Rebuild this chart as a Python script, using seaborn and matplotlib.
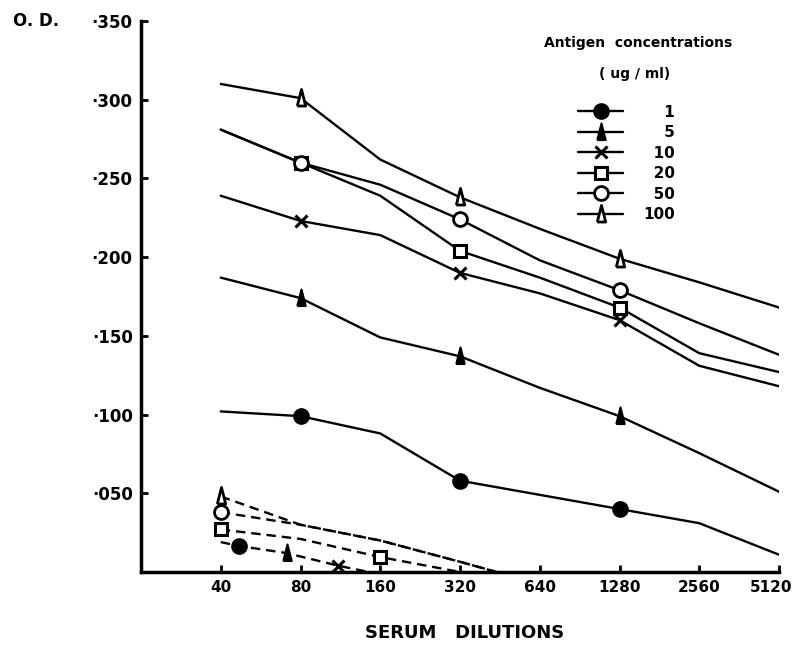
import numpy as np
import pandas as pd
import matplotlib
matplotlib.use("Agg")
import matplotlib.pyplot as plt
from matplotlib.lines import Line2D
from matplotlib.ticker import FixedLocator, FixedFormatter, NullLocator
from matplotlib.transforms import ScaledTranslation
import seaborn as sns

# serum dilutions (x) and O.D. readings
dilutions = [40, 80, 160, 320, 640, 1280, 2560, 5120]
dilution_labels = ["40", "80", "160", "320", "640", "1280", "2560", "5120"]
concentrations = ["1", "5", "10", "20", "50", "100"]

od_1 = [0.102, 0.099, 0.088, 0.058, 0.049, 0.040, 0.031, 0.011]
od_5 = [0.187, 0.174, 0.149, 0.137, 0.117, 0.099, 0.0755, 0.051]
od_10 = [0.239, 0.223, 0.214, 0.190, 0.177, 0.160, 0.131, 0.118]
od_20 = [0.281, 0.260, 0.239, 0.204, 0.187, 0.168, 0.139, 0.127]
od_50 = [0.281, 0.260, 0.246, 0.224, 0.198, 0.179, 0.158, 0.138]
od_100 = [0.310, 0.301, 0.262, 0.238, 0.218, 0.199, 0.184, 0.168]

# control (dashed) curves
ctrl_top_dil = [40, 80, 160, 320, 440]
ctrl_100 = [0.048, 0.030, 0.020, 0.0065, 0.0]
ctrl_50 = [0.038, 0.030, 0.020, 0.0065, 0.0]
ctrl_20_dil = [40, 80, 160, 320]
ctrl_20 = [0.027, 0.021, 0.0095, 0.0]
ctrl_low_dil = [40, 47, 71, 111, 145]
ctrl_low = [0.019, 0.0165, 0.012, 0.004, 0.0]

yticks = [0.05, 0.10, 0.15, 0.20, 0.25, 0.30, 0.35]
ytick_labels = ["·050", "·100", "·150", "·200", "·250", "·300", "·350"]

sns.set_style("white")
plt.rcParams["font.family"] = ["DejaVu Sans"]
plt.rcParams["font.weight"] = "bold"
for key in ["text.color", "axes.labelcolor", "xtick.color", "ytick.color"]:
    plt.rcParams[key] = "black"

fig = plt.figure(figsize=(7.96, 6.5), dpi=100)
ax = fig.add_axes([141 / 796, 78 / 650, 638 / 796, 551 / 650])

# tall narrow triangle like the hand-drawn one
tri = [(-0.28, -0.5), (0, 0.6), (0.28, -0.5), (-0.28, -0.5)]
styles = {
    "1": dict(marker="o", ms=10.5, mfc="black", mew=1.5),
    "5": dict(marker=tri, ms=13, mfc="black", mew=1.5),
    "10": dict(marker="x", ms=8, mfc="black", mew=2.2),
    "20": dict(marker="s", ms=9, mfc="white", mew=2.2),
    "50": dict(marker="o", ms=10, mfc="white", mew=2),
    "100": dict(marker=tri, ms=13, mfc="white", mew=2),
}
series = {"1": od_1, "5": od_5, "10": od_10, "20": od_20, "50": od_50, "100": od_100}

lw = 1.7
for conc in concentrations:
    df = pd.DataFrame({"dilution": dilutions, "od": series[conc]})
    sns.lineplot(data=df, x="dilution", y="od", ax=ax, color="black", lw=lw,
                 estimator=None, sort=False, markevery=[1, 3, 5],
                 mec="black", zorder=3, **styles[conc])

dash = (0, (4, 2.5))
for xs, ys, conc in [(ctrl_top_dil, ctrl_100, "100"), (ctrl_top_dil, ctrl_50, "50"),
                     (ctrl_20_dil, ctrl_20, "20")]:
    df = pd.DataFrame({"dilution": xs, "od": ys})
    sns.lineplot(data=df, x="dilution", y="od", ax=ax, color="black", lw=lw,
                 ls=dash, estimator=None, sort=False, zorder=2)
    mk = [0, 2] if conc == "20" else [0]
    ax.plot([xs[i] for i in mk], [ys[i] for i in mk], ls="none", mec="black",
            zorder=4, clip_on=False, **styles[conc])

df = pd.DataFrame({"dilution": ctrl_low_dil, "od": ctrl_low})
sns.lineplot(data=df, x="dilution", y="od", ax=ax, color="black", lw=lw,
             ls=dash, estimator=None, sort=False, zorder=2)
for i, conc in zip([1, 2, 3], ["1", "5", "10"]):
    ax.plot([ctrl_low_dil[i]], [ctrl_low[i]], ls="none", mec="black",
            zorder=4, clip_on=False, **styles[conc])

ax.set_xscale("log", base=2)
ax.set_xlim(20, 5120)
ax.set_ylim(0, 0.35)
ax.xaxis.set_major_locator(FixedLocator(dilutions))
ax.xaxis.set_major_formatter(FixedFormatter(dilution_labels))
ax.xaxis.set_minor_locator(NullLocator())
ax.yaxis.set_major_locator(FixedLocator(yticks))
ax.yaxis.set_major_formatter(FixedFormatter(ytick_labels))
ax.tick_params(axis="both", direction="in", length=5, width=2,
               bottom=True, left=True, pad=6)
ax.tick_params(axis="y", labelsize=12)
ax.tick_params(axis="x", labelsize=11)
for lab in ax.get_xticklabels() + ax.get_yticklabels():
    lab.set_fontweight("bold")
# nudge the last x label so it stays inside the picture
last = ax.get_xticklabels()[-1]
last.set_transform(last.get_transform() + ScaledTranslation(-6 / 72, 0, fig.dpi_scale_trans))
for side in ["top", "right"]:
    ax.spines[side].set_visible(False)
for side in ["left", "bottom"]:
    ax.spines[side].set_linewidth(2.5)
    ax.spines[side].set_color("black")
ax.set_xlabel("")
ax.set_ylabel("")

fig.text(36 / 796, 1 - 21 / 650, "O. D.", ha="center", va="center",
         fontsize=12, fontweight="bold")
fig.text(465 / 796, 1 - 633 / 650, "SERUM   DILUTIONS", ha="center",
         va="center", fontsize=13, fontweight="bold")

# legend
fig.text(638 / 796, 1 - 43 / 650, "Antigen  concentrations", ha="center",
         va="center", fontsize=10, fontweight="bold")
fig.text(635 / 796, 1 - 74 / 650, "( ug / ml)", ha="center", va="center",
         fontsize=10, fontweight="bold")
handles = [Line2D([], [], color="black", lw=lw, mec="black", **styles[c])
           for c in concentrations]
labels = ["\u2007\u2007" + c if len(c) == 1 else ("\u2007" + c if len(c) == 2 else c)
          for c in concentrations]
leg = fig.legend(handles, labels, loc="upper left",
                 bbox_to_anchor=(570 / 796, 1 - 97 / 650),
                 frameon=False, handlelength=3.0, handletextpad=1.3,
                 labelspacing=0.36, borderpad=0, prop=dict(size=11, weight="bold"))

fig.savefig("out.png", dpi=100)
